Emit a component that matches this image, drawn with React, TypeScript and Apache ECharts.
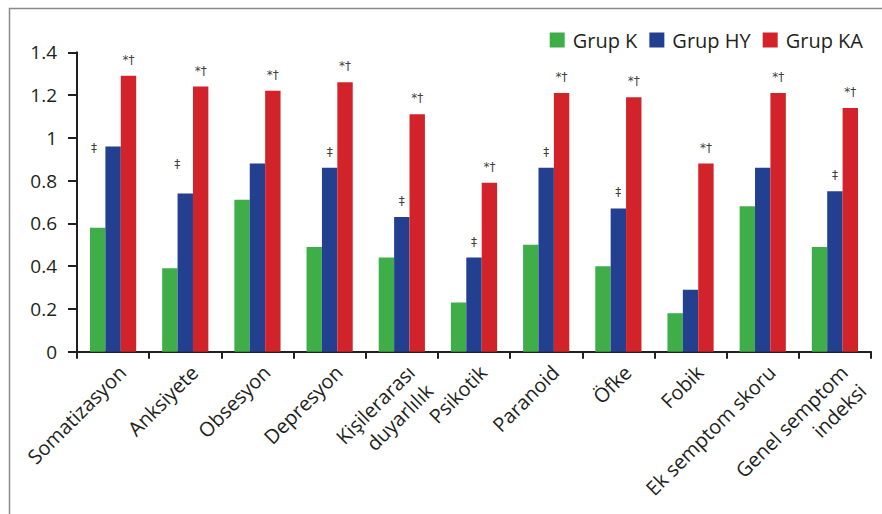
import React, { useEffect, useRef } from "react";
import * as echarts from "echarts";

const categories = [
  "Somatizasyon",
  "Anksiyete",
  "Obsesyon",
  "Depresyon",
  "Kişilerarası\nduyarlılık",
  "Psikotik",
  "Paranoid",
  "Öfke",
  "Fobik",
  "Ek semptom skoru",
  "Genel semptom\nindeksi",
];

const seriesNames = ["Grup K", "Grup HY", "Grup KA"];

const grupK = [0.58, 0.39, 0.71, 0.49, 0.44, 0.23, 0.5, 0.4, 0.18, 0.68, 0.49];
const grupHY = [0.96, 0.74, 0.88, 0.86, 0.63, 0.44, 0.86, 0.67, 0.29, 0.86, 0.75];
const grupKA = [1.29, 1.24, 1.22, 1.26, 1.11, 0.79, 1.21, 1.19, 0.88, 1.21, 1.14];

const hyMarks = ["‡", "‡", "", "‡", "‡", "‡", "‡", "‡", "", "", "‡"];
const kaMarks = ["*†", "*†", "*†", "*†", "*†", "*†", "*†", "*†", "*†", "*†", "*†"];

const yTicks = [0, 0.2, 0.4, 0.6, 0.8, 1, 1.2, 1.4];

// style constants
const COLORS = ["#3fae49", "#233f8f", "#d2232a"];
const INK = "#231f20";
const FONT = "'Open Sans', 'Noto Sans', sans-serif";
const HY_MARK_SHIFT: Record<number, [number, number]> = { 0: [-19, 18], 1: [-8, -13] };

export default function App() {
  const ref = useRef<HTMLDivElement>(null);

  useEffect(() => {
    if (!ref.current) return;
    const chart = echarts.init(ref.current, null, { renderer: "svg" });

    const markLabel = {
      show: true,
      position: "top" as const,
      distance: 10,
      fontSize: 12,
      color: "#404040",
      textBorderWidth: 0,
      fontFamily: "'DejaVu Sans', sans-serif",
    };

    const hyData = grupHY.map((v, i) => {
      const shift = HY_MARK_SHIFT[i];
      return shift ? { value: v, label: { offset: shift } } : { value: v };
    });

    chart.setOption({
      animation: false,
      backgroundColor: "#ffffff",
      textStyle: { fontFamily: FONT },
      graphic: [
        {
          type: "rect",
          shape: { x: 9.5, y: 8.5, width: 900, height: 540 },
          style: { fill: "none", stroke: "#8a8a8a", lineWidth: 1.5 },
          silent: true,
        },
      ],
      legend: {
        data: seriesNames,
        right: 14,
        top: 25,
        icon: "rect",
        itemWidth: 15,
        itemHeight: 15,
        itemGap: 12,
        textStyle: { fontSize: 20, color: INK, fontFamily: FONT, padding: [0, 0, 0, 3] },
      },
      grid: {
        left: 77,
        right: 11,
        top: 52.3,
        bottom: 162.3,
        containLabel: false,
        outerBoundsMode: "none",
      },
      xAxis: {
        type: "category",
        data: categories,
        axisLine: { show: true, lineStyle: { color: INK, width: 2 } },
        axisTick: { show: true, length: 7, lineStyle: { color: INK, width: 2 } },
        axisLabel: {
          interval: 0,
          rotate: 45,
          margin: 8,
          verticalAlign: "top",
          lineHeight: 26,
          fontSize: 20,
          color: INK,
          fontFamily: FONT,
        },
        splitLine: { show: false },
      },
      yAxis: {
        type: "value",
        min: 0,
        max: yTicks[yTicks.length - 1],
        interval: 0.2,
        axisLine: { show: true, lineStyle: { color: INK, width: 2 } },
        axisTick: { show: true, length: 9, lineStyle: { color: INK, width: 2 } },
        axisLabel: {
          margin: 20,
          fontSize: 19,
          color: INK,
          fontFamily: FONT,
          formatter: (v: number) => String(Math.round(v * 10) / 10),
        },
        splitLine: { show: false },
      },
      series: [
        {
          name: seriesNames[0],
          type: "bar",
          data: grupK,
          barGap: "0%",
          barCategoryGap: "36%",
          itemStyle: { color: COLORS[0] },
        },
        {
          name: seriesNames[1],
          type: "bar",
          data: hyData,
          barGap: "0%",
          barCategoryGap: "36%",
          itemStyle: { color: COLORS[1] },
          label: { ...markLabel, formatter: (p: any) => hyMarks[p.dataIndex] },
        },
        {
          name: seriesNames[2],
          type: "bar",
          data: grupKA,
          barGap: "0%",
          barCategoryGap: "36%",
          itemStyle: { color: COLORS[2] },
          label: { ...markLabel, formatter: (p: any) => kaMarks[p.dataIndex] },
        },
      ],
    });

    return () => chart.dispose();
  }, []);

  return (
    <div
      ref={ref}
      style={{ position: "absolute", left: 0, top: 0, width: 882, height: 514 }}
    />
  );
}
